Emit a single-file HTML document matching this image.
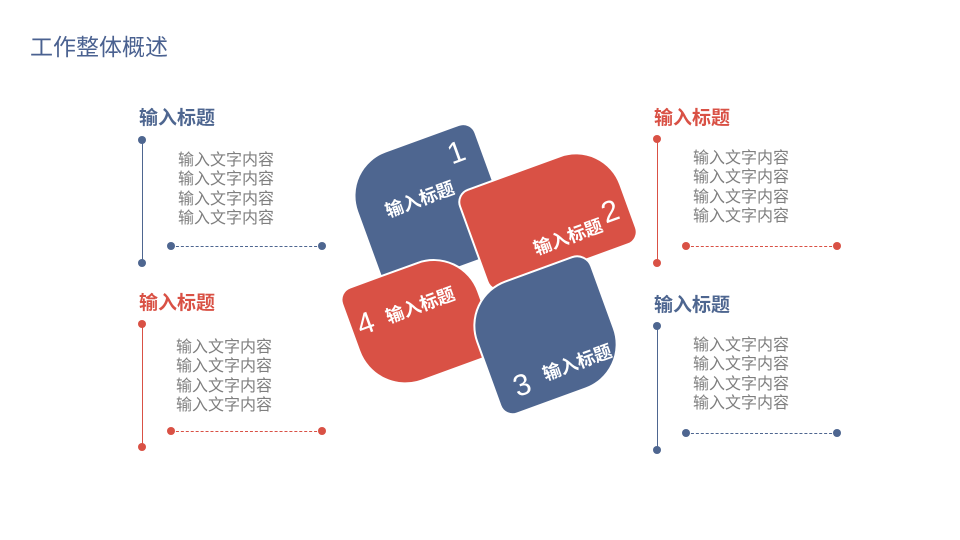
<!DOCTYPE html>
<html><head><meta charset="utf-8"><style>
body{margin:0;width:960px;height:540px;background:#fff;position:relative;overflow:hidden;font-family:"Liberation Sans","Noto Sans CJK SC",sans-serif}
.a{position:absolute;white-space:nowrap}
.t{font-size:19px;font-weight:bold;line-height:24px}
.txt{font-size:16px;line-height:19.3px;color:#7f7f7f}
.v{position:absolute;width:1.5px}
.d{position:absolute;width:8px;height:8px;border-radius:50%}
.h{position:absolute;height:0;border-top:1px dashed}
.s{position:absolute;border:2px solid #fff;transform:rotate(-20deg);box-sizing:border-box}
.s span{position:absolute;color:#fff;white-space:nowrap}
.lb{font-size:18px;font-weight:bold}
.n{font-size:30px;font-weight:300}
</style></head><body>
<div class="a" style="left:30px;top:28px;font-size:23px;color:#4a6190">工作整体概述</div>

<div class="a t" style="left:139px;top:107px;color:#4e6690">输入标题</div>
<div class="v" style="left:141.5px;top:140px;height:123px;background:#4e6690"></div>
<div class="d" style="left:138px;top:136px;background:#4e6690"></div>
<div class="d" style="left:138px;top:259px;background:#4e6690"></div>
<div class="a txt" style="left:178px;top:151px">输入文字内容<br>输入文字内容<br>输入文字内容<br>输入文字内容</div>
<div class="h" style="left:171px;top:245.5px;width:151px;border-color:#4e6690"></div>
<div class="d" style="left:167px;top:242px;background:#4e6690"></div>
<div class="d" style="left:318px;top:242px;background:#4e6690"></div>

<div class="a t" style="left:139px;top:292px;color:#d95145">输入标题</div>
<div class="v" style="left:141.5px;top:324px;height:123px;background:#d95145"></div>
<div class="d" style="left:138px;top:320px;background:#d95145"></div>
<div class="d" style="left:138px;top:443px;background:#d95145"></div>
<div class="a txt" style="left:176px;top:338px">输入文字内容<br>输入文字内容<br>输入文字内容<br>输入文字内容</div>
<div class="h" style="left:171px;top:431px;width:151px;border-color:#d95145"></div>
<div class="d" style="left:167px;top:427px;background:#d95145"></div>
<div class="d" style="left:318px;top:427px;background:#d95145"></div>

<div class="a t" style="left:654px;top:107px;color:#d95145">输入标题</div>
<div class="v" style="left:656.5px;top:139px;height:124px;background:#d95145"></div>
<div class="d" style="left:653px;top:135px;background:#d95145"></div>
<div class="d" style="left:653px;top:259px;background:#d95145"></div>
<div class="a txt" style="left:693px;top:149px">输入文字内容<br>输入文字内容<br>输入文字内容<br>输入文字内容</div>
<div class="h" style="left:686px;top:245.5px;width:151px;border-color:#d95145"></div>
<div class="d" style="left:682px;top:242px;background:#d95145"></div>
<div class="d" style="left:833px;top:242px;background:#d95145"></div>

<div class="a t" style="left:654px;top:294px;color:#4e6690">输入标题</div>
<div class="v" style="left:656.5px;top:326px;height:124px;background:#4e6690"></div>
<div class="d" style="left:653px;top:322px;background:#4e6690"></div>
<div class="d" style="left:653px;top:446px;background:#4e6690"></div>
<div class="a txt" style="left:693px;top:336px">输入文字内容<br>输入文字内容<br>输入文字内容<br>输入文字内容</div>
<div class="h" style="left:686px;top:433px;width:151px;border-color:#4e6690"></div>
<div class="d" style="left:682px;top:429px;background:#4e6690"></div>
<div class="d" style="left:833px;top:429px;background:#4e6690"></div>

<div class="s" style="left:359px;top:139px;width:140px;height:136px;background:#4e6690;border-radius:48px 14px 8px 14px">
 <span class="lb" style="left:26px;top:42px">输入标题</span><span class="n" style="left:104px;top:8px">1</span></div>
<div class="s" style="left:468px;top:163px;width:160px;height:108px;background:#d95145;border-radius:14px 48px 14px 14px">
 <span class="lb" style="left:54px;top:64px">输入标题</span><span class="n" style="left:130px;top:52px">2</span></div>
<div class="s" style="left:352px;top:265px;width:134px;height:114px;background:#d95145;border-radius:14px 48px 14px 50px">
 <span class="n" style="left:6px;top:22px">4</span><span class="lb" style="left:36px;top:26px">输入标题</span></div>
<div class="s" style="left:478px;top:270px;width:135px;height:130px;background:#4e6690;border-radius:48px 16px 48px 14px">
 <span class="n" style="left:18px;top:86px">3</span><span class="lb" style="left:50px;top:86px">输入标题</span></div>
</body></html>
